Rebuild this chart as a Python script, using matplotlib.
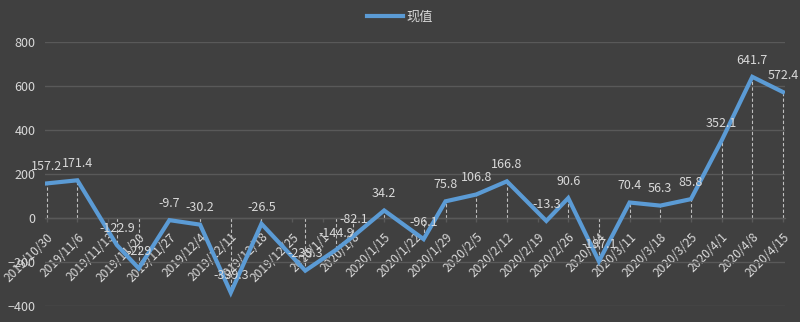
import matplotlib
matplotlib.use("Agg")
import matplotlib.pyplot as plt
import matplotlib.dates as mdates
from datetime import date

plt.rcParams["font.family"] = ["Noto Sans CJK SC", "DejaVu Sans"]

# Observation dates and values of the series
dates = [
    "2019-10-30", "2019-11-06", "2019-11-15", "2019-11-20", "2019-11-27",
    "2019-12-04", "2019-12-11", "2019-12-18", "2019-12-28", "2020-01-04",
    "2020-01-08", "2020-01-15", "2020-01-24", "2020-01-29", "2020-02-05",
    "2020-02-12", "2020-02-21", "2020-02-26", "2020-03-04", "2020-03-11",
    "2020-03-18", "2020-03-25", "2020-04-01", "2020-04-08", "2020-04-15",
]
values = [
    157.2, 171.4, -122.9, -229, -9.7, -30.2, -339.3, -26.5, -239.3, -144.9,
    -82.1, 34.2, -96.1, 75.8, 106.8, 166.8, -13.3, 90.6, -197.1, 70.4,
    56.3, 85.8, 352.1, 641.7, 572.4,
]

# Weekly axis ticks
tick_dates = [
    "2019-10-30", "2019-11-06", "2019-11-13", "2019-11-20", "2019-11-27",
    "2019-12-04", "2019-12-11", "2019-12-18", "2019-12-25", "2020-01-01",
    "2020-01-08", "2020-01-15", "2020-01-22", "2020-01-29", "2020-02-05",
    "2020-02-12", "2020-02-19", "2020-02-26", "2020-03-04", "2020-03-11",
    "2020-03-18", "2020-03-25", "2020-04-01", "2020-04-08", "2020-04-15",
]
tick_labels = [
    "2019/10/30", "2019/11/6", "2019/11/13", "2019/11/20", "2019/11/27",
    "2019/12/4", "2019/12/11", "2019/12/18", "2019/12/25", "2020/1/1",
    "2020/1/8", "2020/1/15", "2020/1/22", "2020/1/29", "2020/2/5",
    "2020/2/12", "2020/2/19", "2020/2/26", "2020/3/4", "2020/3/11",
    "2020/3/18", "2020/3/25", "2020/4/1", "2020/4/8", "2020/4/15",
]
y_ticks = [-400, -200, 0, 200, 400, 600, 800]
series_name = "现值"

BG = "#404040"
GRID = "#595959"
TEXT = "#d9d9d9"
LINE = "#5b9bd5"


def to_num(s):
    y, m, d = (int(p) for p in s.split("-"))
    return mdates.date2num(date(y, m, d))


x = [to_num(d) for d in dates]
xt = [to_num(d) for d in tick_dates]

fig = plt.figure(figsize=(8.0, 3.22), dpi=100, facecolor=BG)
ax = fig.add_axes([45 / 800, 16 / 322, 740 / 800, 264 / 322], facecolor=BG)

ax.set_ylim(-400, 800)
ax.set_xlim(xt[0] - 0.39, xt[-1] + 0.46)
ax.set_yticks(y_ticks)
ax.grid(axis="y", color=GRID, lw=1.0)
ax.set_axisbelow(True)

for side in ("left", "right", "top"):
    ax.spines[side].set_visible(False)
ax.spines["bottom"].set_position(("data", 0))
ax.spines["bottom"].set_color(GRID)
ax.spines["bottom"].set_linewidth(1.0)

ax.set_xticks(xt)
ax.set_xticklabels(tick_labels, rotation=45, ha="right", va="top",
                   rotation_mode="anchor")
ax.tick_params(axis="x", colors=GRID, length=3, width=1, direction="out",
               pad=6, labelcolor=TEXT, labelsize=8.7)
ax.tick_params(axis="y", length=0, pad=7, labelcolor=TEXT, labelsize=9)

# Drop lines from each point to the zero axis
ax.vlines(x, 0, values, colors="#bfbfbf", linestyles=(0, (3, 2)), lw=0.8,
          zorder=2)

line, = ax.plot(x, values, color=LINE, lw=3, solid_joinstyle="miter",
                zorder=3, label=series_name)

for xi, v in zip(x, values):
    ax.annotate(f"{v:g}", (xi, v), xytext=(0, 12), textcoords="offset points",
                ha="center", va="center", color=TEXT, fontsize=9, zorder=4)

fig.legend(handles=[line], labels=[series_name], loc="center",
           bbox_to_anchor=(0.5, 1 - 17 / 322), frameon=False,
           handlelength=2.7, handletextpad=0.3, fontsize=9.5,
           labelcolor=TEXT)

fig.savefig("out.png", dpi=100, facecolor=BG)
